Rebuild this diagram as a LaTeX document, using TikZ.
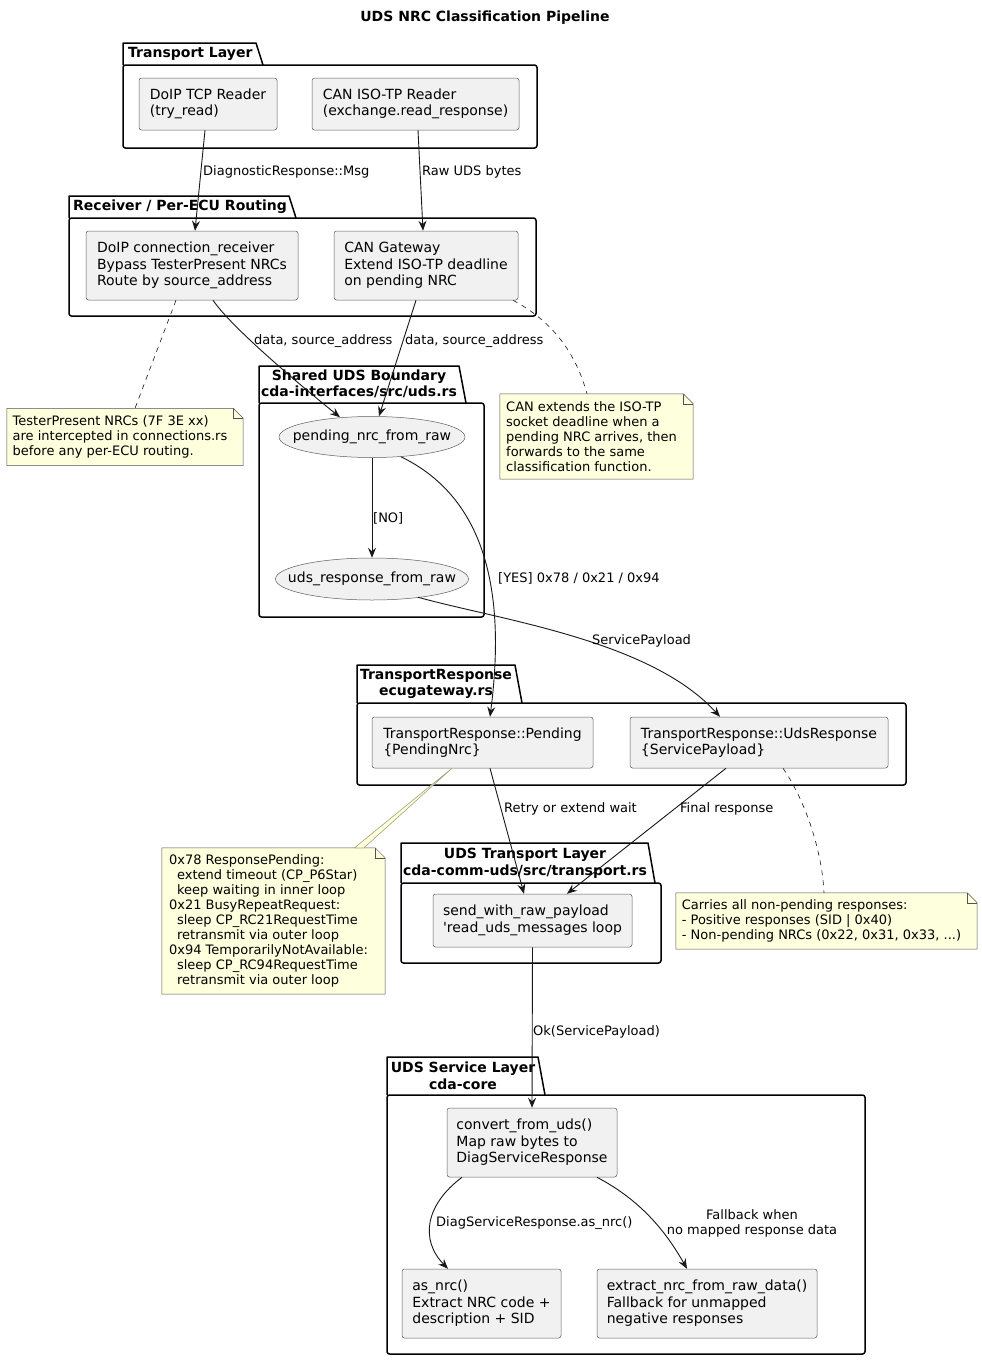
\documentclass[tikz,border=0pt]{standalone}
\usepackage{fontspec}
\setmainfont{DejaVu Sans}
\usetikzlibrary{arrows.meta,shapes.geometric,calc,backgrounds}
\definecolor{nodefill}{HTML}{F1F1F1}
\definecolor{ln}{HTML}{181818}
\definecolor{notefill}{HTML}{FEFFDD}
\definecolor{wedgeln}{HTML}{A3A37A}
\newcommand\mynoteshape[1]{%
  \filldraw[fill=notefill, draw=ln!75, line width=0.5pt] (#1.north west) -- (#1.north east) -- ($(#1.north east)+(10,10)$) -- ($(#1.south east)+(10,0)$) -- (#1.south west) -- cycle;
  \draw[draw=ln!75, line width=0.5pt] (#1.north east) -- ($(#1.north east)+(0,10)$) -- ($(#1.north east)+(10,10)$);}
\newcommand\mypkg[6]{%
  \draw[pkg, line join=round] (#1,#4) -- (#1,#2) -- (#3,#2) -- ($(#3,#4)+(7,0)$);
  \draw[pkg, rounded corners=2.5pt] (#1,#4) rectangle (#5,#6);}
\begin{document}
\begin{tikzpicture}[x=1pt,y=-1pt,
  comp/.style={draw=ln!70, line width=0.5pt, fill=nodefill, rounded corners=2.5pt, align=left, font=\fontsize{14}{16.4}\selectfont, inner sep=0pt},
  uc/.style={ellipse, draw=ln!70, line width=0.5pt, fill=nodefill, font=\fontsize{14}{16.4}\selectfont, inner xsep=-20pt, inner ysep=0pt},
  notebox/.style={align=left, font=\fontsize{13}{15}\selectfont, inner sep=0pt},
  lbl/.style={font=\fontsize{13}{15}\selectfont, inner sep=0pt, anchor=west},
  flow/.style={draw=ln, line width=0.9pt, -{Stealth[length=10pt,width=8pt,inset=3.5pt]}},
  pkg/.style={draw=black, line width=1.5pt},
  ptitle/.style={font=\bfseries\fontsize{14}{16.5}\selectfont, inner sep=0pt, align=center},
  notelink/.style={draw=ln, line width=0.6pt, dash pattern=on 5pt off 5pt}
]
\useasboundingbox (0,0) rectangle (982,1360);
\begin{scope}[on background layer]
\fill[white] (0,0) rectangle (982,1360);
\end{scope}

\node[font=\bfseries\fontsize{14}{16}\selectfont] (title) at (485,18) {UDS NRC Classification Pipeline};

% packages
\mypkg{123}{43}{256}{65}{537}{148}
\node[ptitle, anchor=west] (p1) at (128,54) {Transport Layer};
\mypkg{69}{196}{289}{218}{536}{316}
\node[ptitle, anchor=west] (p2) at (73,207) {Receiver / Per-ECU Routing};
\mypkg{259}{366}{459}{403}{484}{617}
\node[ptitle] (p3) at (359,384) {Shared UDS Boundary\\cda-interfaces/src/uds.rs};
\mypkg{357}{665}{515}{703}{906}{785}
\node[ptitle] (p4) at (436,684) {TransportResponse\\ecugateway.rs};
\mypkg{401}{843}{648}{883}{661}{963}
\node[ptitle] (p5) at (525,863) {UDS Transport Layer\\cda-comm-uds/src/transport.rs};
\mypkg{387}{1057}{538}{1095}{865}{1354}
\node[ptitle] (p6) at (463,1076) {UDS Service Layer\\cda-core};

% components
\node[comp, minimum width=138pt, minimum height=52pt] (doipreader) at (208,104) {DoIP TCP Reader\\(try\_read)};
\node[comp, minimum width=207pt, minimum height=52pt] (canreader) at (415.5,104) {CAN ISO-TP Reader\\(exchange.read\_response)};
\node[comp, minimum width=212pt, minimum height=69pt] (doiprecv) at (192,265.5) {DoIP connection\_receiver\\Bypass TesterPresent NRCs\\Route by source\_address};
\node[comp, minimum width=184pt, minimum height=69pt] (cangw) at (426,265.5) {CAN Gateway\\Extend ISO-TP deadline\\on pending NRC};
\node[uc, minimum width=186pt, minimum height=41pt] (pend) at (372,437) {pending\_nrc\_from\_raw};
\node[uc, minimum width=193pt, minimum height=42pt] (udsresp) at (372,579) {uds\_response\_from\_raw};
\node[comp, minimum width=221pt, minimum height=51pt] (trpending) at (482.5,742.5) {TransportResponse::Pending\\\{PendingNrc\}};
\node[comp, minimum width=258pt, minimum height=51pt] (truds) at (759,742.5) {TransportResponse::UdsResponse\\\{ServicePayload\}};
\node[comp, minimum width=199pt, minimum height=53pt] (sendraw) at (532.5,920.5) {send\_with\_raw\_payload\\\textquotesingle read\_uds\_messages loop};
\node[comp, minimum width=170pt, minimum height=69pt] (convert) at (532,1142.5) {convert\_from\_uds()\\Map raw bytes to\\DiagServiceResponse};
\node[comp, minimum width=159pt, minimum height=69pt] (asnrc) at (481.5,1303.5) {as\_nrc()\\Extract NRC code +\\description + SID};
\node[comp, minimum width=220pt, minimum height=69pt] (extract) at (707,1303.5) {extract\_nrc\_from\_raw\_data()\\Fallback for unmapped\\negative responses};

% notes (node = box minus the 10pt fold strip on the right)
\node[notebox, minimum width=226pt, minimum height=57pt] (note1) at (120,437) {TesterPresent NRCs (7F 3E xx)\\are intercepted in connections.rs\\before any per-ECU routing.};
\node[notebox, minimum width=183pt, minimum height=85pt] (note2) at (591.5,436.5) {CAN extends the ISO-TP\\socket deadline when a\\pending NRC arrives, then\\forwards to the same\\classification function.};
\node[notebox, minimum width=213pt, minimum height=146pt] (note3) at (268.5,921) {0x78 ResponsePending:\\\hspace*{8pt}extend timeout (CP\_P6Star)\\\hspace*{8pt}keep waiting in inner loop\\0x21 BusyRepeatRequest:\\\hspace*{8pt}sleep CP\_RC21RequestTime\\\hspace*{8pt}retransmit via outer loop\\0x94 TemporarilyNotAvailable:\\\hspace*{8pt}sleep CP\_RC94RequestTime\\\hspace*{8pt}retransmit via outer loop};
\node[notebox, minimum width=291pt, minimum height=56pt] (note4) at (821.5,921) {Carries all non-pending responses:\\- Positive responses (SID \textbar{} 0x40)\\- Non-pending NRCs (0x22, 0x31, 0x33, ...)};
\begin{scope}[on background layer]
  \mynoteshape{note1}
  \mynoteshape{note2}
  \mynoteshape{note3}
  \mynoteshape{note4}
\end{scope}

% note links
\draw[notelink] ($(doiprecv.south)+(-16,0)$) -- ($(note1.north)+(15,0)$);
\draw[notelink] ($(cangw.south)+(87,0)$) .. controls (550,320) and (575,350) .. ($(note2.north)+(-4.5,0)$);
\draw[notelink] ($(truds.south)+(24,0)$) .. controls (805,800) and (822,850) .. ($(note4.north)+(2.5,0)$);
\filldraw[fill=notefill, draw=wedgeln, line width=0.6pt] ($(trpending.south)+(-30.5,0)$) -- ($(note3.north)+(86,0)$) -- ($(note3.north)+(95.5,0)$) -- cycle;

% flows
\draw[flow] ($(doipreader.south)+(-3,0)$) -- ($(doiprecv.north)+(3,0)$);
\node[lbl] (l1) at (203,172) {DiagnosticResponse::Msg};
\draw[flow] ($(canreader.south)+(2.5,0)$) -- ($(cangw.north)+(-3,0)$);
\node[lbl] (l2) at (422,172) {Raw UDS bytes};
\draw[flow] ($(doiprecv.south)+(21,0)$) .. controls (232,328) and (300,385) .. ($(pend.north)+(-32,1)$);
\node[lbl] (l3) at (254,341) {data, source\_address};
\draw[flow] ($(cangw.south)+(-10,0)$) -- ($(pend.north)+(7,0)$);
\node[lbl] (l4) at (405,341) {data, source\_address};
\draw[flow] (pend.south) -- (udsresp.north);
\node[lbl] (l5) at (373,518) {[NO]};
\draw[flow] ($(pend.south)+(29,-1)$) .. controls (490,500) and (505,600) .. ($(trpending.north)+(7.5,0)$);
\node[lbl] (l6) at (498,578) {[YES] 0x78 / 0x21 / 0x94};
\draw[flow] ($(udsresp.south)+(46,-3)$) .. controls (500,620) and (650,640) .. ($(truds.north)+(-39,0)$);
\node[lbl] (l7) at (592,641) {ServicePayload};
\draw[flow] ($(trpending.south)+(7.5,0)$) -- ($(sendraw.north)+(-8.5,0)$);
\node[lbl] (l8) at (504,809) {Retry or extend wait};
\draw[flow] ($(truds.south)+(-33,0)$) -- ($(sendraw.north)+(34.5,0)$);
\node[lbl] (l9) at (680,809) {Final response};
\draw[flow] (sendraw.south) -- (convert.north);
\node[lbl] (l10) at (533,1032) {Ok(ServicePayload)};
\draw[flow] ($(convert.south)+(-70,0)$) .. controls (425,1205) and (420,1240) .. ($(asnrc.north)+(-33.5,0)$);
\node[lbl] (l11) at (436,1223) {DiagServiceResponse.as\_nrc()};
\draw[flow] ($(convert.south)+(65,0)$) .. controls (640,1200) and (665,1230) .. ($(extract.north)+(-20,0)$);
\node[lbl, anchor=center, align=center] (l12) at (752,1223) {Fallback when\\no mapped response data};
\end{tikzpicture}
\end{document}
